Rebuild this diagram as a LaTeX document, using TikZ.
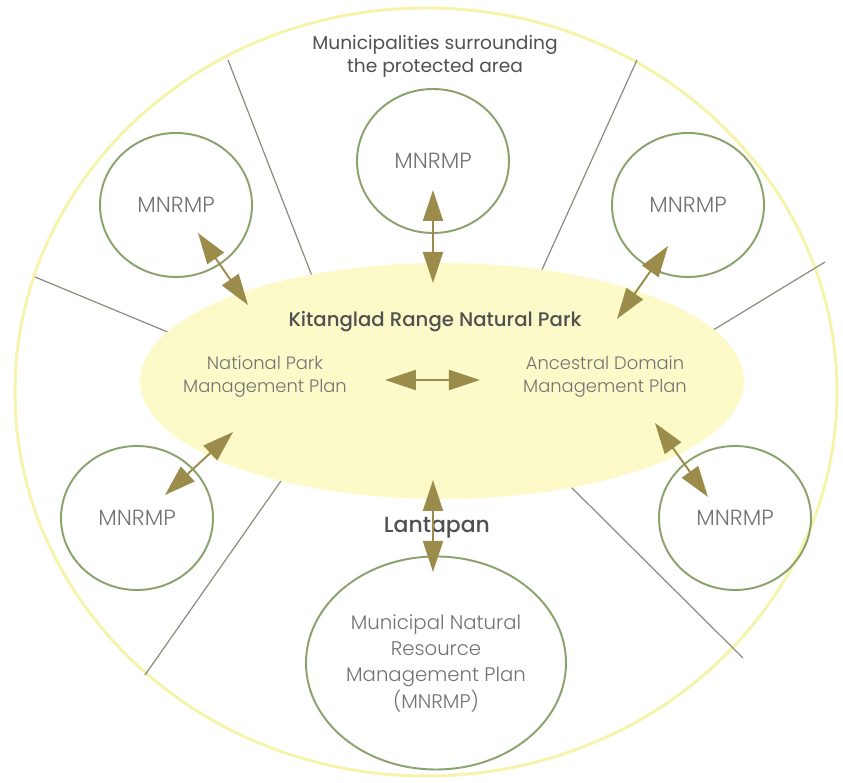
\documentclass[tikz,border=0pt]{standalone}
\usepackage{fontspec}
\setmainfont{Poppins}
\newfontfamily\mediumfont{Poppins Medium}
\newfontfamily\lightfont{Poppins Light}
\usepackage{tikz}
\usetikzlibrary{shapes,arrows.meta,backgrounds}
\definecolor{ringyellow}{RGB}{246,243,172}
\definecolor{parkyellow}{RGB}{252,250,200}
\definecolor{mnrmpgreen}{RGB}{138,162,108}
\definecolor{divgrey}{RGB}{140,140,128}
\definecolor{linkolive}{RGB}{155,140,76}
\definecolor{darktext}{RGB}{80,80,80}
\definecolor{lighttext}{RGB}{115,115,115}
\newcommand{\headsize}{\fontsize{10.6}{13}\selectfont}
\newcommand{\plansize}{\lightfont\fontsize{10.2}{13}\selectfont}
\newcommand{\unitsize}{\lightfont\fontsize{12.5}{14}\selectfont}
\newcommand{\bigsize}{\lightfont\fontsize{11.2}{15}\selectfont}

\begin{document}
\begin{tikzpicture}

\pgfdeclarelayer{background}
\pgfsetlayers{background,main}

\tikzstyle{mnrmp} = [draw=mnrmpgreen, ellipse, line width=1.1pt, minimum width=3.04cm, minimum height=2.88cm, text=lighttext, font=\unitsize]
\tikzstyle{heading} = [text=darktext, align=center, font=\headsize]
\tikzstyle{plan} = [text=lighttext, align=center, font=\plansize]
\tikzstyle{divider} = [draw=divgrey, line width=0.7pt]

\tikzset{
  link/.style={
    {Triangle[length=0.62cm,width=0.4cm]}-{Triangle[length=0.62cm,width=0.4cm]},
    draw=linkolive, fill=linkolive, line width=1.1pt
  }
}

\useasboundingbox (-8.84,-8.04) rectangle (8.02,7.62);

%Kitanglad Range Natural Park: centre

\node (park) [ellipse, fill=parkyellow, minimum width=12.08cm, minimum height=4.72cm] at (0,0) {};

\path (park)+(-0.14,1.18) node (park_title) [heading, font=\mediumfont\fontsize{11.2}{13}\selectfont] {Kitanglad Range Natural Park};

\path (park)+(-3.54,0.08) node (np_plan) [plan] {National Park\\Management Plan};

\path (park)+(3.26,0.08) node (ad_plan) [plan] {Ancestral Domain\\Management Plan};

%Municipalities surrounding the protected area

\path (park)+(-0.32,-0.22) node (ring) [ellipse, minimum width=16.44cm, minimum height=15.36cm] {};

\path (park)+(-0.14,6.50) node (ring_header) [heading] {Municipalities surrounding\\the protected area};

\path (park)+(-5.32,3.52) node (mnrmp_tl) [mnrmp] {MNRMP};
\path (park)+(-0.18,4.40) node (mnrmp_t) [mnrmp] {MNRMP};
\path (park)+(4.92,3.52) node (mnrmp_tr) [mnrmp] {MNRMP};
\path (park)+(-6.10,-2.74) node (mnrmp_bl) [mnrmp] {MNRMP};
\path (park)+(5.86,-2.74) node (mnrmp_br) [mnrmp] {MNRMP};

%Lantapan: bottom

\path (park)+(-0.10,-2.94) node (lantapan) [heading, font=\mediumfont\fontsize{12.5}{14}\selectfont] {Lantapan};

\path (park)+(-0.12,-5.64) node (mnrmp_lantapan) [mnrmp, inner sep=0pt, minimum width=5.2cm, minimum height=4.26cm, font=\bigsize, align=center] {Municipal Natural\\Resource\\Management Plan\\(MNRMP)};

%Arrows

\path (mnrmp_tl.center)+(0.44,-0.56) coordinate (arrow_1l);
\path (park.center)+(-3.88,1.52) coordinate (arrow_1r);
\draw [link] (arrow_1l) -- (arrow_1r);

\path (mnrmp_t.center)+(0,-0.58) coordinate (arrow_2l);
\path (park.center)+(-0.18,1.96) coordinate (arrow_2r);
\draw [link] (arrow_2l) -- (arrow_2r);

\path (mnrmp_tr.center)+(-0.40,-0.82) coordinate (arrow_3l);
\path (park.center)+(3.50,1.24) coordinate (arrow_3r);
\draw [link] (arrow_3l) -- (arrow_3r);

\path (park.center)+(-1.14,0.02) coordinate (arrow_4l);
\path (park.center)+(0.76,0.02) coordinate (arrow_4r);
\draw [link] (arrow_4l) -- (arrow_4r);

\path (mnrmp_bl.center)+(0.56,0.46) coordinate (arrow_5l);
\path (park.center)+(-4.18,-1.02) coordinate (arrow_5r);
\draw [link] (arrow_5l) -- (arrow_5r);

\path (mnrmp_br.center)+(-0.54,0.42) coordinate (arrow_6l);
\path (park.center)+(4.26,-0.84) coordinate (arrow_6r);
\draw [link] (arrow_6l) -- (arrow_6r);

\path (mnrmp_lantapan.center)+(-0.06,1.82) coordinate (arrow_7l);
\path (park.center)+(-0.18,-1.98) coordinate (arrow_7r);
\draw [link] (arrow_7l) -- (arrow_7r);

\begin{pgfonlayer}{background}

\draw [draw=ringyellow, line width=1.7pt] (ring.center) ellipse [x radius=8.22cm, y radius=7.68cm];

%Dividers between the municipalities

\path (ring.center)+(-3.96,6.64) coordinate (div_1a);
\path (park.center)+(-2.60,2.10) coordinate (div_1b);
\draw [divider] (div_1a) -- (div_1b);

\path (ring.center)+(-7.82,2.30) coordinate (div_2a);
\path (park.center)+(-5.44,0.96) coordinate (div_2b);
\draw [divider] (div_2a) -- (div_2b);

\path (ring.center)+(4.22,6.64) coordinate (div_3a);
\path (park.center)+(1.96,2.14) coordinate (div_3b);
\draw [divider] (div_3a) -- (div_3b);

\path (ring.center)+(7.98,2.60) coordinate (div_4a);
\path (park.center)+(5.36,0.98) coordinate (div_4b);
\draw [divider] (div_4a) -- (div_4b);

\path (ring.center)+(-5.62,-5.66) coordinate (div_5a);
\path (park.center)+(-3.18,-1.94) coordinate (div_5b);
\draw [divider] (div_5a) -- (div_5b);

\path (ring.center)+(6.34,-5.32) coordinate (div_6a);
\path (park.center)+(2.54,-2.08) coordinate (div_6b);
\draw [divider] (div_6a) -- (div_6b);

\end{pgfonlayer}

\end{tikzpicture}
\end{document}
